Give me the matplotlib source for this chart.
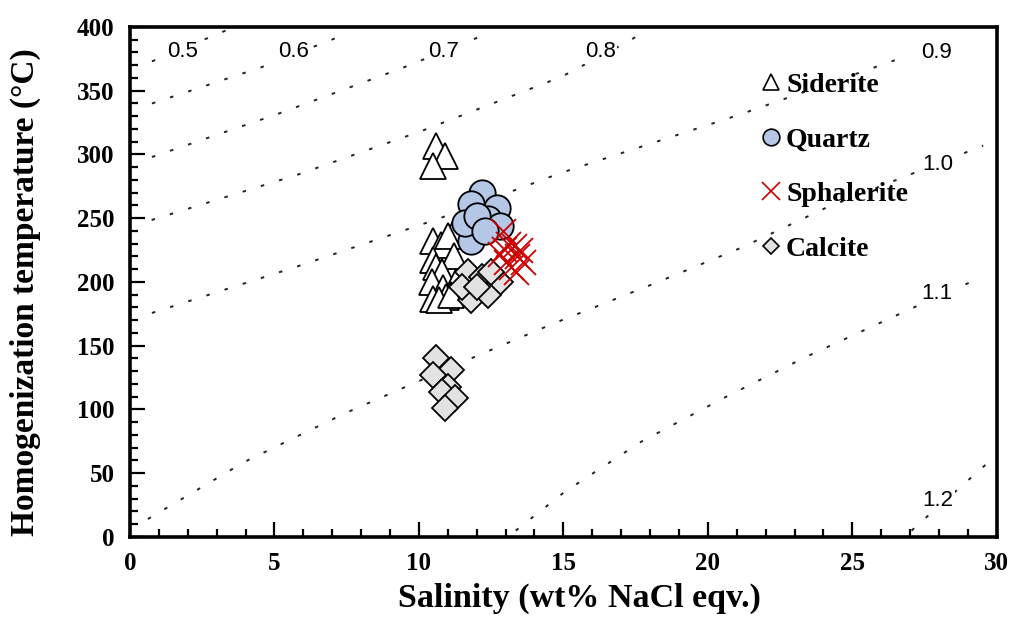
import matplotlib.pyplot as plt
from matplotlib.lines import Line2D
from matplotlib.ticker import MultipleLocator

# fluid inclusion data, salinity (wt% NaCl eqv.) vs Th (degC)
siderite_sal = [10.6, 10.9, 10.5,
                10.5, 10.75, 11.25, 11.0, 10.5, 11.2, 10.6, 10.8,
                10.45, 10.85, 11.3, 10.5, 10.95, 10.7, 11.1]
siderite_th = [307, 299, 291,
               232, 229, 241, 236, 217, 220, 212, 208,
               200, 195, 200, 187, 188, 186, 190]

quartz_sal = [12.2, 11.8, 12.7, 12.4, 11.8, 11.6, 12.8, 12.0, 12.3]
quartz_th = [270, 261, 258, 249, 232, 246, 244, 252, 240]

sphal_sal = [12.9, 13.1, 12.8, 13.3, 13.0, 13.4, 13.2, 13.5, 13.35, 12.95, 13.6]
sphal_th = [240, 230, 222, 228, 216, 220, 212, 225, 208, 226, 216]

calcite_sal = [11.7, 12.2, 12.8, 11.8, 12.4, 11.5, 12.0, 12.5,
               10.6, 11.1, 10.5, 11.0, 10.8, 11.25, 10.9]
calcite_th = [208, 204, 200, 186, 190, 196, 196, 208,
              140, 131, 127, 118, 114, 109, 101]

# isochores (g/cm3)
iso_05_x = [0.76, 3.4]
iso_05_y = [373, 398]
iso_06_x = [0.76, 4.5, 7.54]
iso_06_y = [340, 368, 395]
iso_07_x = [0.76, 5.08, 9.4, 12.4]
iso_07_y = [298, 331.5, 367.6, 395]
iso_08_x = [0.75, 5.77, 10.09, 14.94, 17.24, 17.7]
iso_08_y = [248.6, 283.9, 318.4, 361, 388.5, 395]
iso_09_x = [0.76, 5.77, 10.73, 14.88, 21.17, 26.76]
iso_09_y = [175.7, 212, 250, 285.3, 331.8, 376.2]
iso_10_x = [0.62, 3.98, 7.44, 11.59, 14.59, 18.17, 21.17, 24.1, 29.53]
iso_10_y = [14.1, 59.1, 97, 138, 166.8, 199, 227, 258.3, 307]
iso_11_x = [13.35, 15.05, 17.7, 20.53, 23.41, 26.93, 29.3]
iso_11_y = [5, 35.5, 74.8, 108.8, 141.4, 178, 202]
iso_12_x = [27.05, 27.39, 29.76]
iso_12_y = [5, 12, 59.6]

iso_labels = ['0.5', '0.6', '0.7', '0.8', '0.9', '1.0', '1.1', '1.2']
iso_label_x = [1.82, 5.67, 10.84, 16.29, 27.91, 27.97, 27.91, 27.97]
iso_label_y = [380.6, 380.6, 380.6, 380.6, 380.1, 291.8, 191.1, 29]

serif = 'Liberation Serif'
sans = 'Liberation Sans'
plt.rcParams['font.family'] = serif
plt.rcParams['font.weight'] = 'bold'

fig = plt.figure(figsize=(10.13, 6.2), dpi=100)
ax = fig.add_axes([0.1283, 0.1339, 0.8557, 0.8226])

isolines = [(iso_05_x, iso_05_y), (iso_06_x, iso_06_y), (iso_07_x, iso_07_y),
            (iso_08_x, iso_08_y), (iso_09_x, iso_09_y), (iso_10_x, iso_10_y),
            (iso_11_x, iso_11_y), (iso_12_x, iso_12_y)]
for xs, ys in isolines:
    ax.plot(xs, ys, color='#222222', lw=1.4, ls=(0, (1.8, 8)), zorder=1)

for lab, lx, ly in zip(iso_labels, iso_label_x, iso_label_y):
    ax.text(lx, ly, lab, family=sans, fontweight='normal', fontsize=16,
            ha='center', va='center', zorder=2,
            bbox=dict(facecolor='white', edgecolor='none', pad=1))

ax.plot(siderite_sal, siderite_th, ls='none', marker='^', ms=19,
        mfc='white', mec='black', mew=1.3, zorder=3)
ax.plot(quartz_sal, quartz_th, ls='none', marker='o', ms=19,
        mfc='#b4c7e7', mec='black', mew=1.3, zorder=4)
ax.plot(calcite_sal, calcite_th, ls='none', marker='D', ms=13.5,
        mfc='#e2e2e2', mec='black', mew=1.3, zorder=5)
ax.plot(sphal_sal, sphal_th, ls='none', marker='x', ms=18,
        mec='#cc0000', mew=1.3, zorder=6)

ax.set_xlim(0, 30)
ax.set_ylim(0, 400)
ax.xaxis.set_major_locator(MultipleLocator(5))
ax.xaxis.set_minor_locator(MultipleLocator(1))
ax.yaxis.set_major_locator(MultipleLocator(50))
ax.yaxis.set_minor_locator(MultipleLocator(10))
ax.tick_params(which='both', direction='in', width=1.6, top=False, right=False)
ax.tick_params(which='major', length=11, pad=11, labelsize=18)
ax.tick_params(which='minor', length=5.5)
for s in ax.spines.values():
    s.set_linewidth(2.6)

ax.set_xlabel('Salinity (wt% NaCl eqv.)', fontweight='bold', fontsize=24.5)
ax.set_ylabel('Homogenization temperature (\u00b0C)', fontweight='bold', fontsize=24)
ax.xaxis.set_label_coords(0.519, -0.09)
ax.yaxis.set_label_coords(-0.103, 0.48)

handles = [
    Line2D([], [], ls='none', marker='^', ms=12, mfc='white', mec='black', mew=1.2),
    Line2D([], [], ls='none', marker='o', ms=12, mfc='#b4c7e7', mec='black', mew=1.2),
    Line2D([], [], ls='none', marker='x', ms=13, mec='#cc0000', mew=1.2),
    Line2D([], [], ls='none', marker='D', ms=8, mfc='#e2e2e2', mec='black', mew=1.2),
]
ax.legend(handles, ['Siderite', 'Quartz', 'Sphalerite', 'Calcite'],
          loc='upper left', bbox_to_anchor=(0.712, 0.938), frameon=False,
          prop=dict(family=serif, weight='bold', size=20),
          handlelength=0.7, handletextpad=0.2, labelspacing=1.05, borderpad=0)

fig.savefig('out.png', dpi=100)
